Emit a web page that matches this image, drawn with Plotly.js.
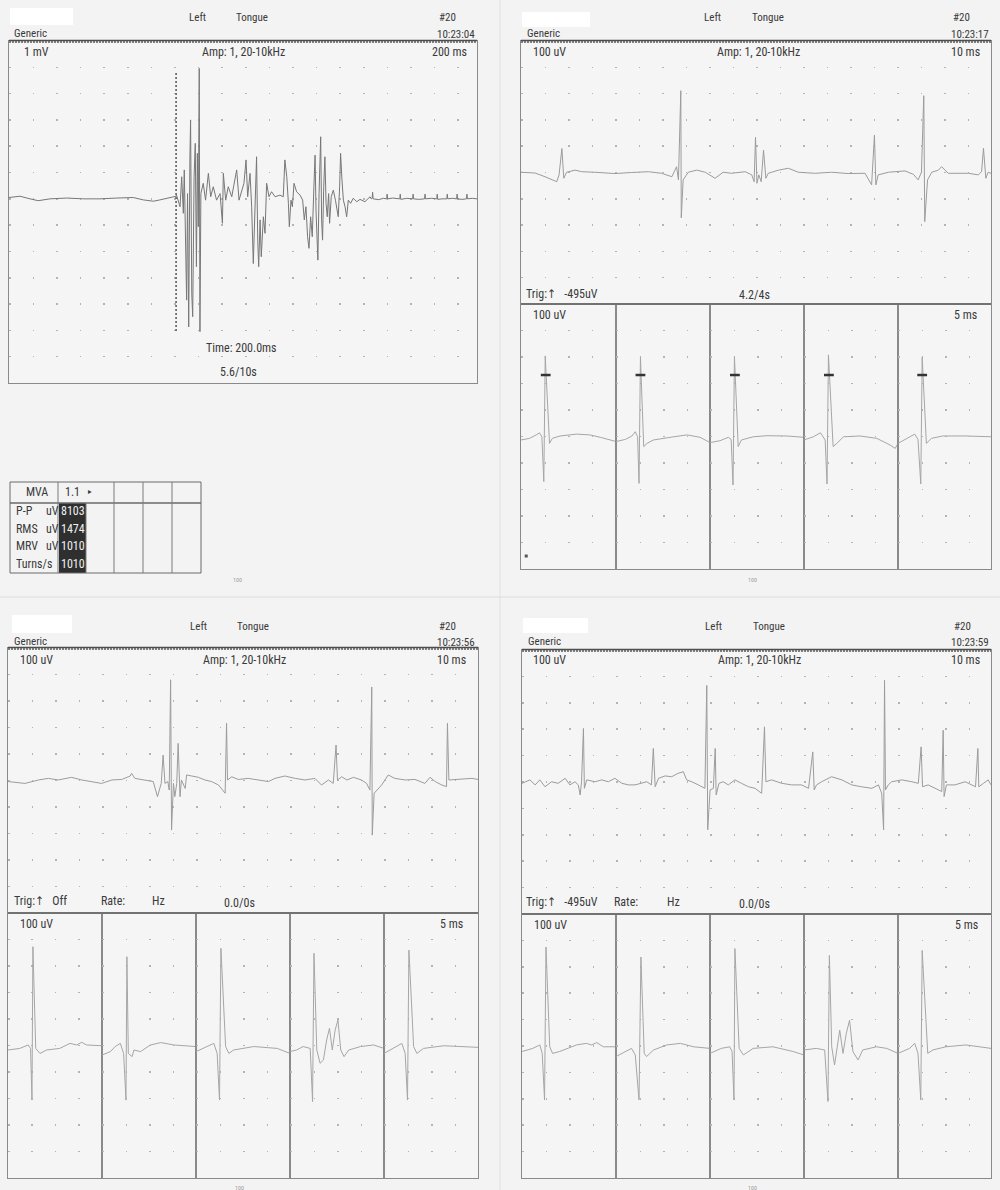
<!DOCTYPE html>
<html><head><meta charset="utf-8">
<script src="https://cdn.plot.ly/plotly-3.0.1.min.js"></script>
<style>html,body{margin:0;padding:0;background:#f3f3f3;}#chart{width:1000px;height:1190px;}</style>
</head><body><div id="chart"></div>
<script>
// ---------- DATA ----------
// Panel A: 1 mV / 200 ms sweep (time in ms, amplitude in mV)
const aTime = [0,47,90,125,175,246,318,389,460,531,574,617,645,688,714,
716,731,738,745,749,755,759,763,768,773,776,781,785,791,796,801,805,809,813,816,
820,830,840,852,862,873,887,902,912,916,926,937,952,961,973,983,994,1004,1013,1020,
1030,1037,1044,1051,1058,1063,1067,1073,1078,1087,1094,1101,1111,1122,1137,1158,1172,1179,1187,1194,
1198,1205,1211,1218,1229,1244,1255,1262,1269,1276,1282,1289,1296,1303,1308,1312,1316,1320,1325,1329,
1332,1336,1340,1345,1350,1355,1360,1366,1370,1377,1386,1395,1400,1407,1413,1417,1423,1429,1436,1443,
1450,1460,1471,1486,1500,1521,1543,
1548,1552,1554,1556,1580,1600,1614,1616,1618,1640,1670,1672,1674,1700,1725,1727,1729,1750,1776,1778,
1780,1805,1828,1830,1832,1850,1871,1873,1875,1895,1913,1915,1917,1935,1955,1957,1959,1980,2000];
const aVolt = [0.05,0.1,0,-0.07,0,0.03,0,0,0.03,0.05,-0.04,-0.09,-0.04,0.05,0.1,
0.14,-0.3,0.84,-0.55,1.1,-2.58,-3.85,0.2,-4.87,1.48,3.0,-3.6,-4.48,0.84,2.11,-2.58,1.73,-1.06,4.96,-5.05,
0.2,0.59,-0.05,0.97,0.08,0.46,-0.05,0.2,-0.93,0.97,-0.05,0.46,0.08,0.52,1.1,-0.05,0.33,0.59,1.48,0.08,
0.97,-0.3,-2.46,-0.43,1.6,-1.57,-2.58,-0.8,-2.2,-0.68,-1.31,0.59,0.08,0.27,0.08,0.14,0.08,1.48,0.84,-0.17,
-1.06,-0.05,-0.3,0.59,0.27,0.14,-0.05,-0.8,-0.3,-1.44,-1.88,-0.68,-1.44,0.46,1.66,-0.43,-1.57,-2.33,0.2,1.48,
2.36,-0.8,-1.57,0.46,1.6,-0.17,-0.68,0.2,-0.93,0.08,0.33,-0.05,-0.3,-0.68,0.46,1.73,0.72,-0.05,-0.3,-0.68,
-0.05,-0.17,0.02,-0.11,-0.02,-0.11,0.08,
0,0.02,0.25,0,-0.03,0.02,0,0.18,0,0.03,0,0.18,-0.02,0.02,0,0.18,0,-0.02,0,0.18,
0,0.02,0,0.18,-0.02,0,0,0.18,0,0.02,0,0.18,0,-0.02,0,0.18,0,0.02,0];
const aCursorTime = [714, 714];
const aCursorVolt = [4.78, -5.03];

// Panel B (10:23:17) free-run trace, time ms, amplitude uV
const bTime = [0,3.0,5.1,7.6,8.1,8.7,9.1,9.7,11.5,12.9,15.7,20.0,23.5,27.1,29.9,32.1,33.1,33.5,34.0,34.1,
34.5,35.6,37.4,39.2,41.3,43.0,44.8,47.7,49.1,49.6,49.9,50.2,50.6,51.1,51.6,52.1,52.6,54.8,56.9,59.0,
62.6,66.1,69.6,73.2,74.6,75.2,75.5,76.0,78.2,81.7,83.5,84.5,85.2,85.7,85.9,86.5,87.4,88.8,89.5,90.9,
95.2,97.3,98.0,98.4,98.9,99.4,100];
const bVolt = [1,-2,-16,-35,-9,91,-22,1,9,3,1,-4,0,3,-3,-16,22,-28,311,-172,
-28,1,9,1,-22,1,-3,3,-9,-35,134,-41,-9,-35,85,-22,-3,9,16,1,
-3,1,-4,-3,-47,142,-47,-9,1,6,-7,-28,1,292,-187,-28,1,9,22,-3,
-3,-9,3,92,-22,1,-3];
// Panel B triggered sweeps (5 x 20 ms)
const bSweepTime = [
 [0,1.8,3.2,3.9,4.4,4.8,5.1,6.0,6.6,8.2,11.7,14.5,16.7,18.8,20],
 [0,2.0,3.4,4.1,4.6,4.9,5.2,5.9,6.6,8.0,12.3,15.1,17.9,20],
 [0,2.1,3.9,4.5,4.9,5.2,6.0,6.7,9.2,12.1,16.3,20],
 [0,2.0,3.5,4.5,4.9,5.2,6.2,7.0,8.4,11.9,15.5,18.3,19.4,20],
 [0,1.5,3.6,4.3,4.9,5.2,6.1,7.2,9.6,14.6,19.6,20]];
const bSweepVolt = [
 [-13,-7,6,14,-1,-170,304,-26,-7,2,9,6,-3,-13,-19],
 [-19,-11,2,18,-1,-177,299,-38,-26,-13,-1,6,-3,-23],
 [-23,-16,-3,-11,-183,301,-38,-13,-1,3,2,-3],
 [-13,-1,14,-13,-179,308,-38,-26,-1,2,-7,-32,-45,-26],
 [-26,-11,9,-11,-179,299,-26,-7,2,2,-1,-1]];
const bMarkerTime = [5.2,5.2,5.3,5.3,5.2];
const bMarkerVolt = [232,232,232,232,232];

// Panel C (10:23:56)
const cTime = [0,3.6,6.5,8.6,10.7,13.5,15.7,17.8,19.9,22.1,24.2,26.0,26.3,27.0,29.1,30.9,31.8,32.6,33.0,33.4,
34.0,34.3,34.6,34.8,35.2,35.5,35.9,36.2,36.6,36.9,37.7,38.0,39.1,40.5,41.9,43.3,44.8,46.2,46.5,46.7,
47.6,49.0,51.1,53.3,55.4,56.8,58.9,61.1,63.2,65.3,66.7,68.2,69.2,69.8,70.1,71.0,72.1,73.5,75.2,76.3,
77.0,77.4,77.5,77.9,79.5,80.9,82.3,84.5,86.6,88.7,89.8,90.9,92.3,93.3,93.5,93.8,95.8,98.7,100];
const cVolt = [-4,-11,2,8,2,12,2,-4,-11,2,4,17,27,8,2,-4,-61,-11,96,-11,
-4,-36,380,-187,-11,-61,-11,140,-61,2,-30,21,17,12,2,-4,-17,-48,216,2,
14,4,8,2,-4,8,17,8,2,8,-17,2,-11,134,2,14,2,12,2,-11,
-36,353,-206,-48,-17,21,8,2,4,-11,12,-4,-17,-23,216,2,4,8,4];
const cSweepTime = [
 [0,2.5,4.3,4.8,5.1,5.3,5.9,6.8,8.2,11.0,13.2,14.6,15.7,16.7,20],
 [0,1.8,2.8,3.9,4.6,5.1,5.3,5.6,6.4,6.8,8.2,10.3,12.5,15.3,20],
 [0,2.3,3.8,4.5,5.0,5.3,6.3,7.0,8.0,12.3,17.3,20],
 [0,1.4,2.8,4.3,4.8,5.1,5.7,6.4,7.1,7.8,8.4,9.0,9.6,10.2,10.8,11.5,12.5,15.0,17.8,20],
 [0,2.0,3.8,4.5,5.0,5.3,6.3,7.0,8.4,12.7,17.7,20]];
const cSweepVolt = [
 [-17,-11,2,-11,-206,373,-11,-30,-17,-11,8,2,12,2,-1],
 [-36,-23,-4,8,-30,-206,335,-30,-42,-17,-23,2,11,2,-4],
 [-23,-4,8,-30,-206,367,-4,-30,-17,-4,-11,-30],
 [-23,-17,-4,-11,-212,348,-17,-67,-55,21,65,-17,58,96,-17,-42,-17,-4,2,-11],
 [-30,-11,8,-30,-206,360,-4,-30,-11,-1,-4,-7]];

// Panel D (10:23:59)
const dTime = [0,1.7,2.8,3.8,4.9,6.3,7.7,9.2,10.2,11.3,12.0,12.4,12.7,13.1,13.3,13.8,15.6,17.0,18.4,19.8,
21.3,22.7,24.1,25.5,26.6,27.6,28.0,28.4,29.1,30.5,31.9,33.3,34.4,35.1,36.2,37.6,39.0,39.4,39.6,40.1,
40.8,41.2,41.4,42.0,42.9,44.0,45.4,46.8,48.3,49.7,51.1,51.7,52.0,53.2,55.4,57.5,59.6,61.1,62.0,62.3,
62.8,63.9,66.0,68.2,70.3,72.4,74.6,76.0,76.7,77.1,77.3,77.5,78.1,78.8,81.0,83.1,84.5,85.1,85.4,86.6,
88.1,89.5,89.8,90.0,90.5,92.3,94.5,95.9,96.7,97.2,97.4,98.4,99.4,100];
const dVolt = [-5,8,-11,8,-18,1,-5,14,-11,1,-11,-49,1,203,-24,8,1,8,1,14,
-5,-11,-11,-5,1,-11,127,-18,14,23,20,33,39,8,1,-11,-24,366,-181,-30,
-24,127,-49,-5,1,-11,8,-5,-18,-24,-43,209,1,8,-5,-11,-11,-24,114,-30,
-11,1,20,8,-11,-18,-24,-11,-43,-181,385,-30,-11,1,8,1,-5,133,-18,-11,
-24,-36,196,-55,-11,-11,1,-11,-18,127,-18,-5,8,-11];
const dSweepTime = [
 [0,2.3,3.8,4.3,4.8,5.1,5.9,6.5,8.0,11.6,13.7,14.8,15.9,17.3,20],
 [0,1.9,3.3,4.1,4.9,5.3,6.0,6.5,8.0,10.8,13.7,16.5,20],
 [0,2.4,4.2,4.7,5.1,5.3,6.2,7.1,9.2,13.4,17.7,20],
 [0,2.6,4.4,5.1,5.4,5.9,6.5,7.6,8.3,9.0,9.7,10.4,11.5,12.5,15.4,17.6,20],
 [0,2.5,3.6,4.3,4.9,5.2,6.4,7.5,10.3,14.6,20]];
const dSweepVolt = [
 [-21,-9,4,-28,-204,375,-3,-28,-21,4,10,4,13,-3,-3],
 [-40,-21,-9,-34,-204,337,-28,-40,-15,4,10,-3,-9],
 [-28,-9,-3,-21,-204,369,-9,-34,-9,-3,-21,-34],
 [-15,-9,-15,-210,343,-3,-72,60,-28,48,98,-21,-53,-15,-3,-9,-28],
 [-28,-9,10,-28,-204,362,-28,-15,-3,4,-9]];

// Measurement table (panel A)
const tableHeader = ['MVA', '1.1'];
const tableNames = ['P-P', 'RMS', 'MRV', 'Turns/s'];
const tableUnits = ['uV', 'uV', 'uV', ''];
const tableValues = ['8103', '1474', '1010', '1010'];

// Header texts
const headerTimes = ['10:23:04', '10:23:17', '10:23:56', '10:23:59'];

// ---------- LAYOUT ----------
const W = 1000, H = 1190;
const FONT = '"Liberation Sans Narrow","Arial Narrow","Roboto Condensed","DejaVu Sans Condensed","Liberation Sans",sans-serif';
const TXT = '#3a3a3a';
const layout = {
  width: W, height: H, margin: {l:0, r:0, t:0, b:0},
  paper_bgcolor: '#f3f3f3', plot_bgcolor: '#f5f5f5',
  showlegend: false, font: {family: FONT, size: 12, color: TXT},
  annotations: [], shapes: []
};
const px = v => v / W, py = v => 1 - v / H;
let axisCount = 0;
function addAxis(x0, x1, y0, y1, xr, yr, dtick, dash) {
  axisCount++;
  const i = axisCount, sfx = i === 1 ? '' : String(i);
  const common = {zeroline:false, showticklabels:false, ticks:'', showline:true, mirror:true,
                  linecolor:'#8a8a8a', linewidth:1, fixedrange:true};
  layout['xaxis' + sfx] = Object.assign({domain:[px(x0), px(x1)], range:xr, showgrid:false, anchor:'y' + sfx}, common);
  layout['yaxis' + sfx] = Object.assign({domain:[py(y1), py(y0)], range:yr, dtick:dtick, tick0:0, showgrid:true,
     gridcolor:'#b4b4b4', gridwidth:1.5, griddash:dash, anchor:'x' + sfx}, common);
  return {x: 'x' + sfx, y: 'y' + sfx};
}
const traces = [];
function line(ax, xs, ys, color, width, dash) {
  traces.push({type:'scatter', mode:'lines', x:xs, y:ys, xaxis:ax.x, yaxis:ax.y,
    line:{color:color, width:width || 1, dash:dash || 'solid'}, hoverinfo:'skip'});
}
const DOTS = '1.5px,22px';
const TRACE = '#9c9c9c';
const SWEEP = '#a6a6a6';

// Panel A
const axA = addAxis(9, 477, 41, 383, [0, 2000], [-7, 6], 1, '1.5px,22.1px');
line(axA, aTime, aVolt, '#777777', 1);
line(axA, aCursorTime, aCursorVolt, '#555', 1.5, '2px,2px');

// Panel B
const axB = addAxis(521, 991, 41, 304, [0, 100], [-500, 500], 100, DOTS);
line(axB, bTime, bVolt, TRACE, 1);
const subB = [521, 616, 710, 804, 898, 991];
for (let k = 0; k < 5; k++) {
  const ax = addAxis(subB[k], subB[k+1], 304, 569, [0, 20], [-500, 500], 100, DOTS);
  line(ax, bSweepTime[k], bSweepVolt[k], SWEEP, 1);
  traces.push({type:'scatter', mode:'markers', x:[bMarkerTime[k]], y:[bMarkerVolt[k]], xaxis:ax.x, yaxis:ax.y,
    marker:{symbol:'line-ew', size:7, line:{color:'#333', width:2.5}}, hoverinfo:'skip'});
  if (k === 0) traces.push({type:'scatter', mode:'markers', x:[1.1], y:[-451], xaxis:ax.x, yaxis:ax.y,
    marker:{symbol:'square', size:3, color:'#555'}, hoverinfo:'skip'});
}

// Panel C
const axC = addAxis(8, 478, 648, 913, [0, 100], [-500, 500], 100, DOTS);
line(axC, cTime, cVolt, TRACE, 1);
const subC = [8, 102, 196, 290, 384, 478];
for (let k = 0; k < 5; k++) {
  const ax = addAxis(subC[k], subC[k+1], 913, 1178, [0, 20], [-500, 500], 100, DOTS);
  line(ax, cSweepTime[k], cSweepVolt[k], SWEEP, 1);
}

// Panel D
const axD = addAxis(522, 991, 650, 914, [0, 100], [-500, 500], 100, DOTS);
line(axD, dTime, dVolt, TRACE, 1);
const subD = [522, 616, 710, 804, 898, 991];
for (let k = 0; k < 5; k++) {
  const ax = addAxis(subD[k], subD[k+1], 914, 1178, [0, 20], [-500, 500], 100, DOTS);
  line(ax, dSweepTime[k], dSweepVolt[k], SWEEP, 1);
}

// ---------- TEXT ----------
function T(text, x, y, anchor, size, color) {
  layout.annotations.push({text:text, x:px(x), y:py(y), xref:'paper', yref:'paper', showarrow:false,
    xanchor:anchor || 'left', yanchor:'middle', font:{family:FONT, size:size || 12, color:color || TXT}});
}
const NB = '\u00a0';
// headers: [leftX for Generic, centre Left, centre Tongue, centre #20, right time, y line1, y line2]
const headers = [[12,197,252,447,477,18,33],[525,712,768,961,991,18,33],[12,198,253,447,477,626,641],[526,713,769,962,991,626,641]];
headers.forEach((h, i) => {
  T('Left', h[1], h[5], 'center', 11);
  T('Tongue', h[2], h[5], 'center', 11);
  T('#20', h[3], h[5], 'center', 11);
  T('Generic', h[0], h[6], 'left', 11);
  T(headerTimes[i], h[4], h[6] + 1, 'right', 11);
});
// Panel A inner text
T('1 mV', 22, 52, 'left'); T('Amp: 1, 20-10kHz', 243, 52, 'center'); T('200 ms', 469, 52, 'right');
T('Time: 200.0ms', 241, 348, 'center'); T('5.6/10s', 238, 372, 'center');
// Panel B
T('100 uV', 531, 52, 'left'); T('Amp: 1, 20-10kHz', 758, 52, 'center'); T('10 ms', 982, 52, 'right');
T('Trig:↑' + NB + NB + ' -495uV', 524, 294, 'left'); T('4.2/4s', 754, 295, 'center');
T('100 uV', 531, 315, 'left'); T('5 ms', 979, 315, 'right');
// Panel C
T('100 uV', 18, 660, 'left'); T('Amp: 1, 20-10kHz', 244, 660, 'center'); T('10 ms', 468, 660, 'right');
T('Trig:↑' + NB + NB + NB + 'Off', 12, 901, 'left'); T('Rate:', 99, 901, 'left'); T('Hz', 150, 901, 'left');
T('0.0/0s', 239, 903, 'center');
T('100 uV', 18, 924, 'left'); T('5 ms', 465, 924, 'right');
// Panel D
T('100 uV', 531, 660, 'left'); T('Amp: 1, 20-10kHz', 759, 660, 'center'); T('10 ms', 982, 660, 'right');
T('Trig:↑' + NB + NB + ' -495uV', 524, 902, 'left'); T('Rate:', 612, 902, 'left'); T('Hz', 665, 902, 'left');
T('0.0/0s', 754, 904, 'center');
T('100 uV', 532, 925, 'left'); T('5 ms', 980, 925, 'right');
// tiny page marks
[[237,579],[752,579],[239,1187],[752,1187]].forEach(p => T('100', p[0], p[1], 'center', 6, '#9a9a9a'));

// ---------- SHAPES ----------
function S(o) { layout.shapes.push(Object.assign({xref:'paper', yref:'paper', layer:'above'}, o)); }
function R(x0, y0, x1, y1, fill, lineColor) {
  S({type:'rect', x0:px(x0), x1:px(x1), y0:py(y1), y1:py(y0), fillcolor:fill,
     line:{width: lineColor ? 1 : 0, color: lineColor || fill}});
}
function L(x0, y0, x1, y1, color, width, dash) {
  S({type:'line', x0:px(x0), x1:px(x1), y0:py(y0), y1:py(y1), line:{color:color, width:width || 1, dash:dash || 'solid'}});
}
// page separators
L(500, 0, 500, 1190, '#e0e0e0', 1); L(0, 597, 1000, 597, '#dcdcdc', 1);
// redaction boxes
R(10, 8, 73, 25, '#ffffff'); R(522, 12, 590, 27, '#ffffff'); R(12, 615, 72, 633, '#ffffff'); R(523, 618, 588, 633, '#ffffff');
// thick (double dotted) top borders
[[9,477,41],[521,991,41],[8,478,648],[522,991,650]].forEach(b => {
  L(b[0], b[2] - 0.5, b[1], b[2] - 0.5, '#4e4e4e', 1.5);
  L(b[0], b[2] + 1, b[1], b[2] + 1, '#5a5a5a', 1.5, '2px,1px');
});
L(521, 304, 991, 304, '#6a6a6a', 1.5); L(8, 913, 478, 913, '#6a6a6a', 1.5); L(522, 914, 991, 914, '#6a6a6a', 1.5);

// table
R(59, 503, 86, 573, '#2f2f2f');
R(10, 482, 201, 573, 'rgba(0,0,0,0)', '#6a6a6a');
L(10, 503, 201, 503, '#6a6a6a', 1.5);
[58, 114, 143, 172].forEach(x => L(x, 482, x, 573, '#7a7a7a', 1));
L(86, 503, 86, 573, '#7a7a7a', 1);
T(tableHeader[0], 37, 492, 'center', 12);
T(tableHeader[1], 82, 492, 'right', 12);
T('▸', 86, 492, 'left', 8);
const rowY = [511, 528.5, 546, 564];
tableNames.forEach((n, i) => {
  T(n, 14, rowY[i], 'left', 12);
  if (tableUnits[i]) T(tableUnits[i], 44, rowY[i], 'left', 12);
  T(tableValues[i], 72.5, rowY[i], 'center', 12, '#f0f0f0');
});

Plotly.newPlot('chart', traces, layout, {displayModeBar:false, staticPlot:true});
</script></body></html>
